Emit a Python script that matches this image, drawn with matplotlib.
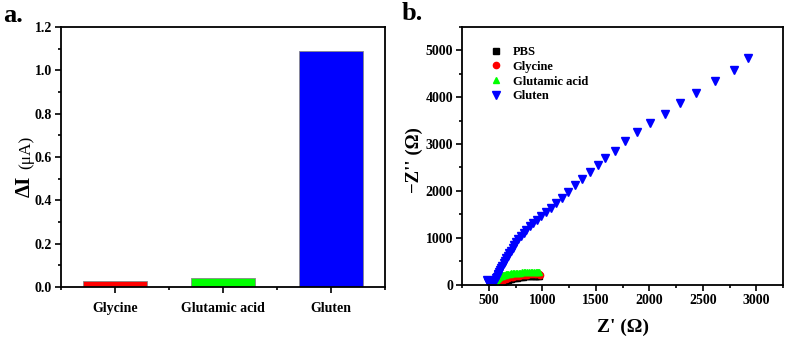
import matplotlib
matplotlib.use("Agg")
import matplotlib.pyplot as plt
from matplotlib.ticker import MultipleLocator, FixedLocator

plt.rcParams['font.family'] = ['Liberation Serif', 'DejaVu Serif']
plt.rcParams['font.weight'] = 'bold'
plt.rcParams['axes.labelweight'] = 'bold'

# ---- panel a data ----
categories = ["Glycine", "Glutamic acid", "Gluten"]
delta_i = [0.03, 0.04, 1.09]
bar_colors = ["#ff0000", "#00ff00", "#0000ff"]

# ---- panel b data (Nyquist) ----
pbs_x = [598, 605, 613, 622, 632, 643, 655, 668, 682, 697, 712, 728, 745, 762, 780, 798, 817, 836,
         855, 874, 893, 911, 928, 944, 958, 968]
pbs_y = [3, 16, 29, 42, 55, 67, 79, 90, 101, 111, 121, 130, 139, 147, 155, 162, 168, 174,
         179, 183, 186, 188, 189, 189, 187, 184]

glycine_x = [588, 594, 600, 607, 615, 624, 634, 645, 657, 670, 684, 699, 714, 730, 747, 764, 782, 800,
             819, 838, 857, 876, 895, 913, 930, 946, 960, 972, 980]
glycine_y = [3, 20, 36, 52, 67, 81, 95, 108, 120, 131, 142, 152, 161, 169, 177, 184, 190, 196,
             201, 206, 210, 214, 217, 219, 221, 221, 220, 217, 213]

glutamic_x = [545, 548, 551, 554, 557, 561, 565, 569, 574, 579, 585, 591, 598, 605, 613, 621, 630, 640,
              650, 661, 672, 684, 696, 709, 722, 736, 750, 765, 780, 795, 811, 827, 843, 860, 876, 892,
              908, 924, 938, 951, 962, 971]
glutamic_y = [5, 22, 38, 54, 69, 83, 97, 110, 122, 134, 145, 155, 165, 174, 182, 190, 197, 204,
              210, 216, 221, 226, 231, 235, 239, 243, 247, 250, 253, 256, 259, 261, 263, 265, 266, 267,
              268, 268, 267, 265, 262, 258]

gluten_x = [486, 490, 497, 506, 516, 527, 538, 546, 554, 561, 568, 575, 582, 590, 598, 607, 617, 627,
            638, 650, 662, 676, 690, 706, 722, 740, 758, 778, 800, 825, 852, 882, 915, 950, 991, 1031,
            1078, 1125, 1181, 1240, 1303, 1372, 1444, 1519, 1591, 1681, 1772, 1887, 2009, 2144, 2284,
            2440, 2612, 2793, 2922]
gluten_y = [100, 75, 60, 48, 42, 44, 52, 66, 84, 106, 132, 162, 195, 230, 270, 312, 358, 405,
            455, 505, 558, 612, 668, 725, 785, 845, 905, 970, 1035, 1100, 1170, 1240, 1310, 1383, 1453, 1545,
            1638, 1745, 1857, 1985, 2119, 2255, 2404, 2553, 2694, 2857, 3055, 3247, 3447, 3651, 3872,
            4098, 4340, 4587, 4830]

W, H = 789, 343
fig = plt.figure(figsize=(W / 100, H / 100), dpi=100)

def box(l, t, r, b):
    return [l / W, 1 - b / H, (r - l) / W, (b - t) / H]

axa = fig.add_axes(box(61, 27, 385, 287))
axb = fig.add_axes(box(462, 27, 783, 284.5))

for ax in (axa, axb):
    for s in ax.spines.values():
        s.set_linewidth(1.3)
    ax.tick_params(which='both', direction='out', width=1.2, top=False, right=False)
    ax.tick_params(which='major', length=4.5, labelsize=10, pad=2)
    ax.tick_params(which='minor', length=2.5)

# ---- panel a ----
xpos = list(range(len(categories)))
axa.bar(xpos, delta_i, width=0.6, color=bar_colors, edgecolor='#888888', linewidth=0.6)
axa.set_xlim(-0.5, 2.5)
axa.set_ylim(0, 1.2)
axa.set_xticks(xpos)
axa.set_xticklabels(categories, fontweight='bold', fontsize=10)
axa.xaxis.set_minor_locator(FixedLocator([-0.5, 0.5, 1.5, 2.5]))
yt = [0.0, 0.2, 0.4, 0.6, 0.8, 1.0, 1.2]
axa.set_yticks(yt)
axa.set_yticklabels([f"{v:.1f}" for v in yt], fontweight='bold')
axa.yaxis.set_minor_locator(MultipleLocator(0.1))
axa.tick_params(axis='x', which='major', pad=6)

fig.text(25 / W, 1 - 186 / H, "ΔI", rotation=90, ha='center', va='center', fontsize=15, fontweight='bold')
fig.text(26 / W, 1 - 152 / H, "(μA)", rotation=90, ha='center', va='center', fontsize=12.5, fontweight='normal')
fig.text(3 / W, 1 - 16 / H, "a.", ha='left', va='center', fontsize=19, fontweight='bold')

# ---- panel b ----
axb.plot(pbs_x, pbs_y, 's', color='black', markersize=4.5, label='PBS')
axb.plot(glycine_x, glycine_y, 'o', color='#ff0000', markersize=4.5, label='Glycine')
axb.plot(glutamic_x, glutamic_y, '^', color='#00ff00', markersize=5, label='Glutamic acid')
axb.plot(gluten_x, gluten_y, 'v', color='#0000ff', markersize=5.5, label='Gluten')
axb.set_xlim(250, 3250)
axb.set_ylim(0, 5500)
axb.set_xticks([500, 1000, 1500, 2000, 2500, 3000])
axb.set_xticklabels(["500", "1000", "1500", "2000", "2500", "3000"], fontweight='bold')
axb.set_yticks([0, 1000, 2000, 3000, 4000, 5000])
axb.set_yticklabels(["0", "1000", "2000", "3000", "4000", "5000"], fontweight='bold')
axb.xaxis.set_minor_locator(MultipleLocator(250))
axb.yaxis.set_minor_locator(MultipleLocator(500))

leg = axb.legend(loc='upper left', bbox_to_anchor=(0.06, 0.965), frameon=False, numpoints=1,
                 handlelength=0.8, handletextpad=0.9, labelspacing=0.22, borderpad=0.3,
                 prop={'family': 'Liberation Serif', 'weight': 'bold', 'size': 9})

fig.text(623 / W, 1 - 327 / H, "Z' (Ω)", ha='center', va='center', fontsize=14, fontweight='bold')
fig.text(414 / W, 1 - 160 / H, "−Z'' (Ω)", rotation=90, ha='center', va='center', fontsize=13.5, fontweight='bold')
fig.text(402 / W, 1 - 14 / H, "b.", ha='left', va='center', fontsize=19, fontweight='bold')

fig.savefig("out.png", dpi=100)
